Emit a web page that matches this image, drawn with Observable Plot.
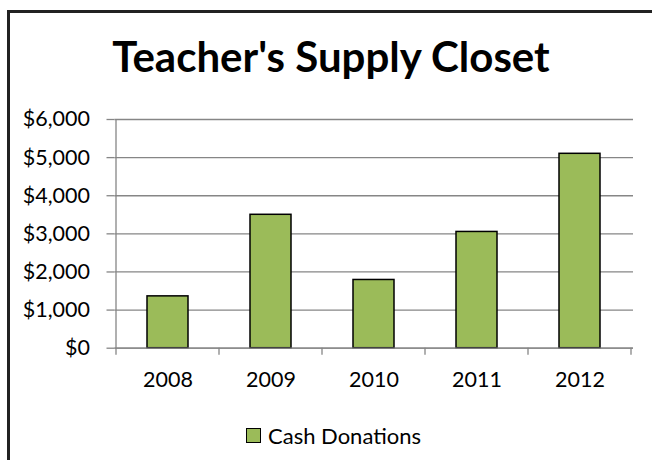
<!DOCTYPE html>
<html>
<head>
<meta charset="utf-8">
<script src="https://cdn.jsdelivr.net/npm/d3@7"></script>
<script src="https://cdn.jsdelivr.net/npm/@observablehq/plot@0.6"></script>
<style>
  html, body { margin: 0; padding: 0; background: #fff; }
  body { width: 652px; height: 460px; overflow: hidden; position: relative; font-family: Lato, "Open Sans", sans-serif; color: #000; }
  #border { position: absolute; left: 7px; top: 10px; width: 720px; height: 520px; border: 3px solid #222; box-sizing: border-box; }
  #title { position: absolute; left: 5px; width: 652px; top: 31px; text-align: center; font-weight: bold; font-size: 42px; line-height: 50px; white-space: nowrap; }
  #chart { position: absolute; left: 0; top: 100px; }
  #legend { position: absolute; left: 246px; top: 422px; display: flex; align-items: center; font-size: 22px; white-space: nowrap; }
  #legend .sw { width: 13px; height: 13px; background: #9BBB59; border: 1.5px solid #000; margin-right: 7px; }
</style>
</head>
<body>
<div id="border"></div>
<div id="title">Teacher's Supply Closet</div>
<div id="chart"></div>
<div id="legend"><span class="sw"></span><span>Cash Donations</span></div>
<script>
const years = ["2008", "2009", "2010", "2011", "2012"];
const donations = [1360, 3500, 1790, 3050, 5100];
const yTicks = [0, 1000, 2000, 3000, 4000, 5000, 6000];
const seriesName = "Cash Donations";

const data = years.map((year, i) => ({year, value: donations[i]}));
const GRID = "#868686";
const BAR = "#9BBB59";

function axisLines(index, scales, values, dimensions) {
  const x = scales.x, y = scales.y;
  const bw = typeof x.bandwidth === "function" ? x.bandwidth() : x.bandwidth;
  const step = typeof x.step === "function" ? x.step() : x.step;
  const y0 = y(0), yTop = y(yTicks[yTicks.length - 1]);
  const g = d3.create("svg:g").attr("stroke", GRID).attr("stroke-width", 1.3).attr("fill", "none");
  const bounds = years.map(d => x(d) - (step - bw) / 2);
  bounds.push(x(years[years.length - 1]) + bw + (step - bw) / 2);
  g.append("line").attr("x1", bounds[0]).attr("x2", bounds[0]).attr("y1", yTop).attr("y2", y0);
  for (const b of bounds) {
    g.append("line").attr("x1", b).attr("x2", b).attr("y1", y0).attr("y2", y0 + 7);
  }
  return g.node();
}

const chart = Plot.plot({
  width: 652,
  height: 290,
  marginTop: 19,
  marginBottom: 42.3,
  marginLeft: 114.5,
  marginRight: 19,
  style: {fontFamily: "Lato, 'Open Sans', sans-serif", fontSize: "21.5px", color: "#000", background: "transparent", overflow: "visible"},
  x: {domain: years, paddingInner: 0.6, paddingOuter: 0.3, label: null},
  y: {domain: [0, 6000], label: null},
  marks: [
    Plot.gridY(yTicks, {stroke: GRID, strokeOpacity: 1, strokeWidth: 1.3}),
    Plot.axisY(yTicks, {tickFormat: d3.format("$,"), tickSize: 8, tickPadding: 17, stroke: GRID, strokeWidth: 1.3, fill: "#000", label: null}),
    Plot.barY(data, {x: "year", y: "value", fill: BAR, stroke: "#000", strokeWidth: 1.5, title: d => `${seriesName} ${d.year}: ${d.value}`}),
    Plot.ruleY([0], {stroke: GRID, strokeWidth: 1.3}),
    Plot.axisX({tickSize: 0, tickPadding: 24, fill: "#000", label: null}),
    axisLines
  ]
});
document.getElementById("chart").appendChild(chart);
</script>
</body>
</html>
